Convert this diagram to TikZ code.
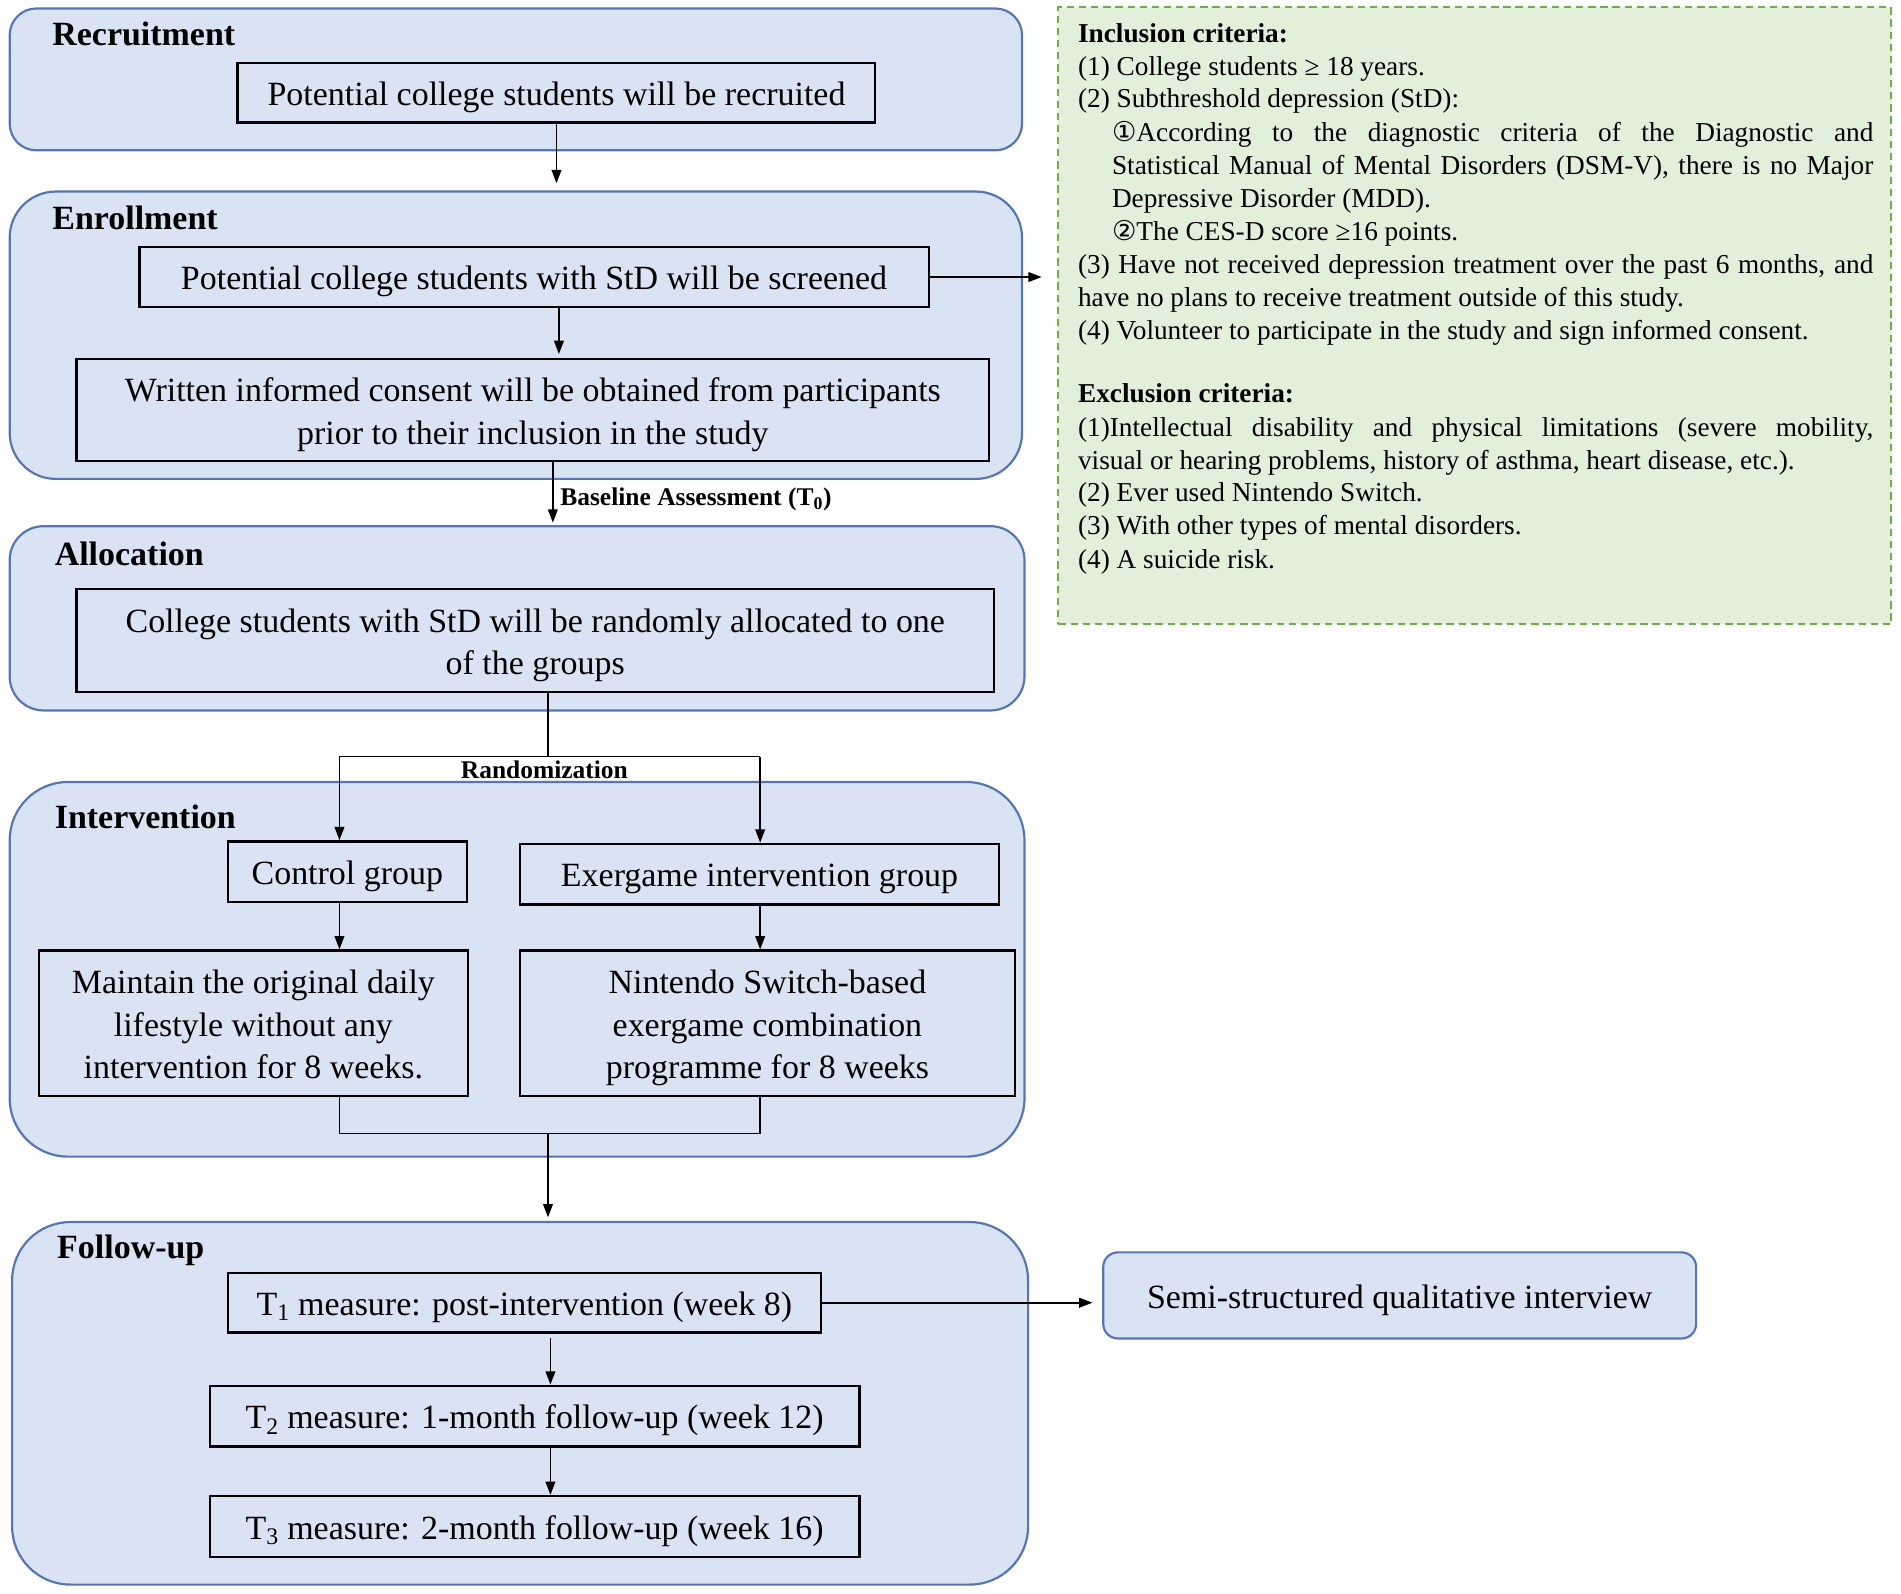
\documentclass[tikz,border=0pt]{standalone}
\usepackage{fontspec}
\setmainfont{Liberation Serif}
\newfontfamily\symf{DejaVu Sans}
\usetikzlibrary{arrows.meta,calc}
\definecolor{bfill}{HTML}{DAE3F3}
\definecolor{bdraw}{HTML}{5676B2}
\definecolor{gfill}{HTML}{E2EFDA}
\definecolor{gdraw}{HTML}{70AD47}
\tikzset{
  phase/.style={draw=bdraw, fill=bfill, line width=1.8pt, inner sep=0pt},
  ibox/.style={draw=black, line width=1.9pt, fill=bfill, font=\fontsize{28}{35}\selectfont, align=center, inner sep=0pt},
  oneline/.style={text height=27pt, text depth=6pt},
  mtext/.style={font=\fontsize{28}{35}\selectfont, align=center, inner sep=0pt},
  head/.style={font=\bfseries\fontsize{28}{34}\selectfont, anchor=west, inner sep=0pt},
  arr/.style={-{Triangle[length=11pt,width=8pt]}, line width=1.4pt},
  conn/.style={line width=1.4pt},
  lbl/.style={font=\bfseries\fontsize{21}{24}\selectfont, inner sep=0pt},
  crit/.style={font=\fontsize{22.5}{27}\selectfont, anchor=base west, inner sep=0pt},
  critb/.style={font=\bfseries\fontsize{22.5}{27}\selectfont, anchor=base west, inner sep=0pt}
}
\begin{document}
\begin{tikzpicture}[x=1pt,y=-1pt]
\useasboundingbox[fill=white] (0,0) rectangle (1568,1314);

% phase containers
\node[phase, rounded corners=22pt, minimum width=835, minimum height=117] (P1) at (425.5,65.5) {};
\node[phase, rounded corners=38pt, minimum width=835, minimum height=237] (P2) at (425.5,276.5) {};
\node[phase, rounded corners=28pt, minimum width=837, minimum height=152] (P3) at (426.5,510) {};
\node[phase, rounded corners=48pt, minimum width=837, minimum height=309] (P4) at (426.5,799.5) {};
\node[phase, rounded corners=48pt, minimum width=838, minimum height=299] (P5) at (429,1157.5) {};

\node[head] (H1) at (43,28) {Recruitment};
\node[head] (H2) at (43,180) {Enrollment};
\node[head] (H3) at (45,457) {Allocation};
\node[head] (H4) at (45,674) {Intervention};
\node[head] (H5) at (47,1031) {Follow-up};

% criteria box
\node[draw=gdraw, fill=gfill, dashed, dash pattern=on 6pt off 4pt, line width=1.6pt, minimum width=687, minimum height=509, inner sep=0pt] (C) at (1216.5,260.5) {};
\node[critb] (c0) at (889,35) {Inclusion criteria:};
\node[crit] (c1) at (889,62) {(1) College students ≥ 18 years.};
\node[crit] (c2) at (889,89) {(2) Subthreshold depression (StD):};
\node[crit] (c3) at (917,117) {\makebox[628pt][s]{{\symf ①}According to the diagnostic criteria of the Diagnostic and}};
\node[crit] (c4) at (917,144) {\makebox[628pt][s]{Statistical Manual of Mental Disorders (DSM-V), there is no Major}};
\node[crit] (c5) at (917,171) {Depressive Disorder (MDD).};
\node[crit] (c6) at (917,198) {{\symf ②}The CES-D score ≥16 points.};
\node[crit] (c7) at (889,226) {\makebox[656pt][s]{(3) Have not received depression treatment over the past 6 months, and}};
\node[crit] (c8) at (889,253) {have no plans to receive treatment outside of this study.};
\node[crit] (c9) at (889,280) {(4) Volunteer to participate in the study and sign informed consent.};
\node[critb] (e0) at (889,332) {Exclusion criteria:};
\node[crit] (e1) at (889,360) {\makebox[656pt][s]{(1)Intellectual disability and physical limitations (severe mobility,}};
\node[crit] (e2) at (889,387) {visual or hearing problems, history of asthma, heart disease, etc.).};
\node[crit] (e3) at (889,414) {(2) Ever used Nintendo Switch.};
\node[crit] (e4) at (889,441) {(3) With other types of mental disorders.};
\node[crit] (e5) at (889,469) {(4) A suicide risk.};

% inner boxes
\node[ibox, oneline, minimum width=526, minimum height=49] (R1) at (459,76.5) {Potential college students will be recruited};
\node[ibox, oneline, minimum width=651, minimum height=49] (E1) at (440.5,228.5) {Potential college students with StD will be screened};
\node[ibox, minimum width=753, minimum height=84] (E2) at (439.5,338) {};
\node[mtext] (E2t) at ($(E2.center)+(0,4)$) {Written informed consent will be obtained from participants\\prior to their inclusion in the study};
\node[ibox, minimum width=757, minimum height=85] (A1) at (441.5,528.5) {};
\node[mtext] (A1t) at ($(A1.center)+(0,4)$) {College students with StD will be randomly allocated to one\\of the groups};
\node[ibox, oneline, minimum width=197, minimum height=50] (Ctl) at (286.5,719) {Control group};
\node[ibox, oneline, minimum width=395, minimum height=50] (Exg) at (626.5,721) {Exergame intervention group};
\node[ibox, minimum width=354, minimum height=120] (Mnt) at (209,844) {};
\node[mtext] (Mntt) at ($(Mnt.center)+(0,1)$) {Maintain the original daily\\lifestyle without any\\intervention for 8 weeks.};
\node[ibox, minimum width=408, minimum height=120] (Nin) at (633,844) {};
\node[mtext] (Nint) at ($(Nin.center)+(0,4)$) {Nintendo Switch-based\\exergame combination\\programme for 8 weeks};
\node[ibox, oneline, minimum width=489, minimum height=49] (T1) at (432.5,1074.5) {T\textsubscript{1} measure: post-intervention (week 8)};
\node[ibox, oneline, minimum width=536, minimum height=50] (T2) at (441,1168) {T\textsubscript{2} measure: 1-month follow-up (week 12)};
\node[ibox, oneline, minimum width=536, minimum height=50] (T3) at (441,1259) {T\textsubscript{3} measure: 2-month follow-up (week 16)};
\node[ibox, oneline, draw=bdraw, line width=1.8pt, rounded corners=12pt, minimum width=489, minimum height=71] (S) at (1154.5,1068.5) {Semi-structured qualitative interview};

% connectors
\draw[arr, shorten >=6pt] (R1.south) -- (R1.south |- P2.north);
\draw[arr, shorten >=13pt] (E1.east) -- (E1.east -| C.west);
\draw[arr, shorten >=3pt] ([xshift=20.5pt]E1.south) -- ([xshift=20.5pt]E1.south |- E2.north);
\draw[arr, shorten >=2pt] ([xshift=16.5pt]E2.south) -- ([xshift=16.5pt]E2.south |- P3.north);
\node[lbl, anchor=west] (bl) at (462,412) {Baseline Assessment (T\textsubscript{0})};

\coordinate (sp) at (452,624);
\coordinate (sl) at (280,624);
\coordinate (sr) at (627,624);
\draw[conn] (A1.south -| sp) -- (sp);
\draw[conn] (sl) -- (sr);
\draw[arr] (sl) -- (sl |- Ctl.north);
\draw[arr] (sr) -- (sr |- Exg.north);
\node[lbl] (rd) at (449,635) {Randomization};

\draw[arr] (sl |- Ctl.south) -- (sl |- Mnt.north);
\draw[arr] (sr |- Exg.south) -- (sr |- Nin.north);
\coordinate (mg) at (452,935);
\draw[conn] (sl |- Mnt.south) -- (sl |- mg) -- (sr |- mg) -- (sr |- Nin.south);
\draw[arr, shorten >=3pt] (mg) -- (mg |- P5.north);

\coordinate (mx) at (454,0);
\draw[arr, shorten <=4pt] (T1.south -| mx) -- (T2.north -| mx);
\draw[arr] (T2.south -| mx) -- (T3.north -| mx);
\draw[arr, shorten >=8pt] (T1.east) -- (T1.east -| S.west);
\end{tikzpicture}
\end{document}
